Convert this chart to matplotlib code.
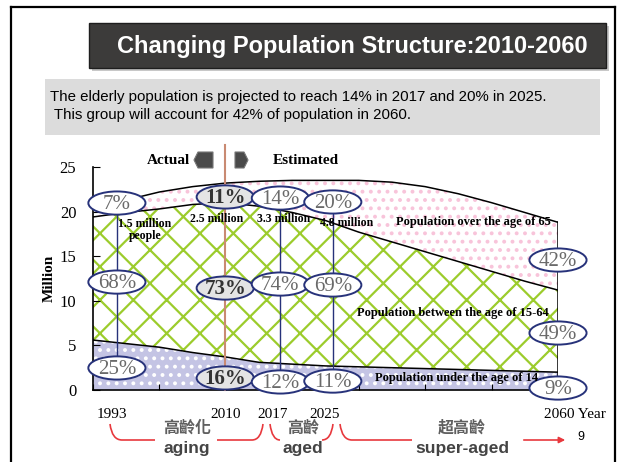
import numpy as np
import matplotlib.pyplot as plt
from matplotlib.patches import Ellipse, Rectangle, Polygon, PathPatch, FancyArrowPatch
from matplotlib.path import Path

plt.rcParams['hatch.linewidth'] = 1.6

# population (million)
years = [1990, 1995, 2000, 2005, 2010, 2015, 2020, 2025, 2030, 2035, 2040, 2045, 2050, 2055, 2060]
young = [5.6, 5.2, 4.8, 4.2, 3.7, 3.1, 2.9, 2.7, 2.6, 2.5, 2.4, 2.3, 2.2, 2.1, 2.0]
working = [13.8, 14.7, 15.5, 16.6, 17.3, 17.5, 17.0, 16.3, 15.1, 14.1, 13.1, 12.1, 11.1, 10.1, 9.2]
elderly = [0.9, 1.4, 1.9, 2.0, 2.2, 2.8, 3.6, 4.5, 5.8, 6.7, 7.3, 7.6, 7.7, 7.7, 7.6]

# share labels for the marked years
col_years = ["1993", "2010", "2017", "2025", "2060"]
pct_elderly = [7, 11, 14, 20, 42]
pct_working = [68, 73, 74, 69, 49]
pct_young = [25, 16, 12, 11, 9]
elderly_counts = ["1.5 million\npeople", "2.5 million", "3.3 million", "4.8 million"]
stages_zh = ["高齡化", "高齡", "超高齡"]
stages_en = ["aging", "aged", "super-aged"]

serif = "Liberation Serif"
sans = "Liberation Sans"

fig = plt.figure(figsize=(6.21, 4.62), dpi=100)

# ---- chart ----
ax = fig.add_axes([93 / 621, 72 / 462, 465 / 621, 223 / 462], zorder=1)
y1 = np.array(young)
y2 = y1 + np.array(working)
y3 = y2 + np.array(elderly)

ax.fill_between(years, 0, y1, facecolor="#c4c4e4", edgecolor="white", hatch="..", linewidth=0)
ax.fill_between(years, y1, y2, facecolor="white", edgecolor="#9ccc2c", hatch="x", linewidth=0)
ax.fill_between(years, y2, y3, facecolor="white", edgecolor="#f8c4da", hatch="..", linewidth=0)
for top in (y1, y2, y3):
    ax.plot(years, top, color="black", lw=1.1)
ax.plot([years[-1], years[-1]], [0, y3[-1]], color="black", lw=1.1)

ax.set_xlim(1990, 2060)
ax.set_ylim(0, 25)
ax.set_yticks(range(0, 26, 5))
ax.set_xticks(range(1990, 2061, 10))
ax.set_xticklabels([])
ax.tick_params(axis="y", direction="in", length=5, pad=12, labelsize=12)
ax.tick_params(axis="x", direction="in", length=4)
for lab in ax.get_yticklabels():
    lab.set_fontfamily(serif)
for s in ("top", "right"):
    ax.spines[s].set_visible(False)
for s in ("left", "bottom"):
    ax.spines[s].set_linewidth(1.2)
ax.set_ylabel("Million", fontfamily=serif, fontweight="bold", fontsize=11, labelpad=3)

# marked columns (positions in years, rows in million)
col_x = [1993.6, 2009.9, 2018.2, 2026.1, 2060]
row_elderly = [20.96, 21.64, 21.52, 21.08, 14.57]
row_working = [12.1, 11.43, 11.88, 11.77, 6.39]
row_young = [2.47, 1.35, 0.9, 1.0, 0.22]

ax.plot([col_x[1], col_x[1]], [0, 27.5], color="#c98a72", lw=1.5, clip_on=False, zorder=4)
for i in (0, 2, 3):
    ax.plot([col_x[i], col_x[i]], [row_young[i], row_elderly[i]], color="#27327a", lw=1, zorder=4)

for i in range(len(col_x)):
    bold = col_years[i] == "2010"
    for row, pct in ((row_elderly, pct_elderly), (row_working, pct_working), (row_young, pct_young)):
        e = Ellipse((col_x[i], row[i]), 8.6, 2.6, facecolor="#e4e4e4" if bold else "white",
                    edgecolor="#27327a", lw=1.4, clip_on=False, zorder=5)
        ax.add_patch(e)
        ax.text(col_x[i], row[i] - 0.15, "%d%%" % pct[i], ha="center", va="center",
                fontfamily=serif, fontsize=15, fontweight="bold" if bold else "normal",
                color="#333333" if bold else "#6a6a6a", zorder=6, clip_on=False)

# ---- slide overlay (pixel coordinates) ----
sl = fig.add_axes([0, 0, 1, 1], zorder=5)
sl.set_xlim(0, 621)
sl.set_ylim(462, 0)
sl.axis("off")
sl.patch.set_alpha(0)

sl.plot([11, 11], [7, 462], color="black", lw=1.6)
sl.plot([11, 615], [7, 7], color="black", lw=1.6)
sl.plot([615, 615], [7, 462], color="black", lw=1.6)

sl.add_patch(Rectangle((92, 26), 517, 45, facecolor="#c8c8c8", edgecolor="none"))
sl.add_patch(Rectangle((89, 23), 517, 45, facecolor="#3c3b3a", edgecolor="#1e1e1e", lw=1))
sl.text(352, 47, "Changing Population Structure:2010-2060", ha="center", va="center",
        color="white", fontfamily=sans, fontweight="bold", fontsize=17)

sl.add_patch(Rectangle((45, 79), 555, 56, facecolor="#dcdcdc", edgecolor="none"))
sl.text(50, 97, "The elderly population is projected to reach 14% in 2017 and 20% in 2025.",
        ha="left", va="center", fontfamily=sans, fontsize=10.8, color="black")
sl.text(50, 115, " This group will account for 42% of population in 2060.",
        ha="left", va="center", fontfamily=sans, fontsize=10.8, color="black")

# actual / estimated
sl.text(190, 161, "Actual", ha="right", va="center", fontfamily=serif, fontweight="bold", fontsize=11)
sl.text(273, 161, "Estimated", ha="left", va="center", fontfamily=serif, fontweight="bold", fontsize=11)
sl.add_patch(Polygon([(213, 152), (198, 152), (194, 160), (198, 168), (213, 168)],
                     facecolor="#4a4a4a", edgecolor="#777777", lw=0.8))
sl.add_patch(Polygon([(235, 152), (244, 152), (248, 160), (244, 168), (235, 168)],
                     facecolor="#4a4a4a", edgecolor="#777777", lw=0.8))

# in-chart labels
count_pos = [(145, 230), (217, 219), (284, 219), (347, 223)]
for (x, y), t in zip(count_pos, elderly_counts):
    sl.text(x, y, t, ha="center", va="center", fontfamily=serif, fontweight="bold",
            fontsize=8.5, linespacing=1.0)
sl.text(473, 222, "Population over the age of 65", ha="center", va="center",
        fontfamily=serif, fontweight="bold", fontsize=9)
sl.text(453, 313, "Population between the age of 15-64", ha="center", va="center",
        fontfamily=serif, fontweight="bold", fontsize=9)
sl.text(457, 378, "Population under the age of 14", ha="center", va="center",
        fontfamily=serif, fontweight="bold", fontsize=9)

# year labels
year_px = [112, 226, 273, 325]
for x, t in zip(year_px, col_years[:4]):
    sl.text(x, 415, t, ha="center", va="center", fontfamily=serif, fontsize=11)
sl.text(544, 415, col_years[4] + " Year", ha="left", va="center", fontfamily=serif, fontsize=11)

# stage brackets
red = "#e8383d"
segs = [
    [(110, 424), (112, 440), (122, 440), (155, 440)],
    [(217, 440), (252, 440), (261, 440), (263, 424)],
    [(270, 424), (272, 440), (280, 440)],
    [(322, 440), (331, 440), (333, 424)],
    [(340, 424), (342, 440), (352, 440), (412, 440)],
]
for pts in segs:
    if len(pts) == 4 and pts[0][1] == 424:
        codes = [Path.MOVETO, Path.CURVE3, Path.CURVE3, Path.LINETO]
    elif len(pts) == 4:
        codes = [Path.MOVETO, Path.LINETO, Path.CURVE3, Path.CURVE3]
    else:
        codes = [Path.MOVETO, Path.CURVE3, Path.CURVE3]
    sl.add_patch(PathPatch(Path(pts, codes), facecolor="none", edgecolor=red, lw=1.2))
sl.add_patch(FancyArrowPatch((521, 440), (568, 440), arrowstyle="-|>", mutation_scale=9,
                             color=red, lw=1.2))

stage_x = [187, 303, 462]
for x, zh, en in zip(stage_x, stages_zh, stages_en):
    sl.text(x, 428, zh, ha="center", va="center", family=["Noto Sans CJK TC", "DejaVu Sans"],
            fontsize=11.5, fontweight="bold", color="#606060")
    sl.text(x, 449, en, ha="center", va="center", fontfamily=sans, fontweight="bold",
            fontsize=12.5, color="#444444")

sl.text(581, 437, "9", ha="center", va="center", fontfamily=sans, fontsize=9)

fig.savefig("out.png", dpi=100)
